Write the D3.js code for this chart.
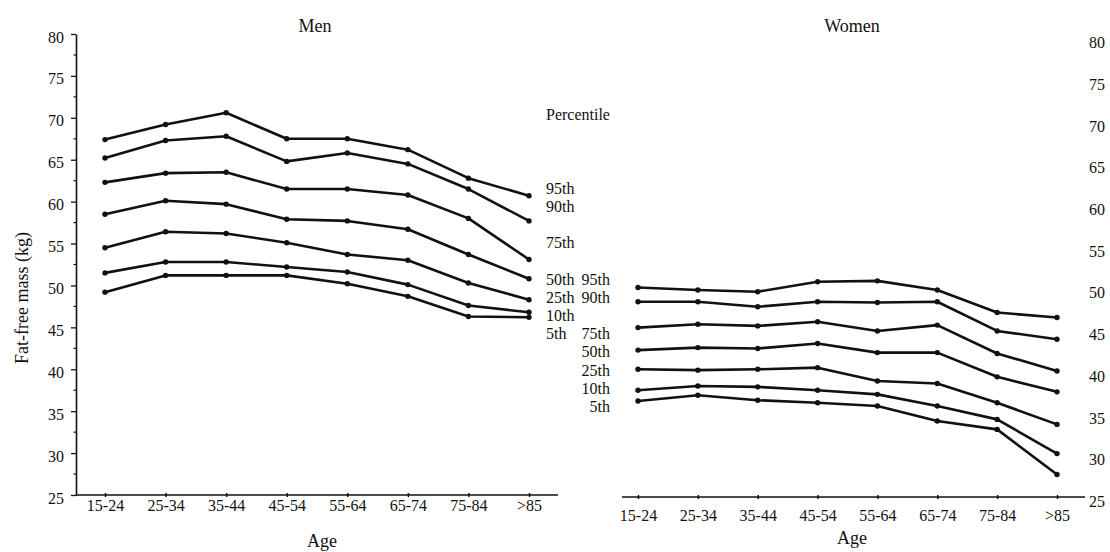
<!DOCTYPE html>
<html>
<head>
<meta charset="utf-8">
<script src="https://cdn.jsdelivr.net/npm/d3@7"></script>
<style>
  body { margin: 0; background: #fff; }
  svg { display: block; }
  svg text { font-family: "Liberation Serif", "Times New Roman", serif !important; fill: #111; }
</style>
</head>
<body>
<script>
// categories and labels
var ageGroups = ["15-24", "25-34", "35-44", "45-54", "55-64", "65-74", "75-84", ">85"];
var percentiles = ["95th", "90th", "75th", "50th", "25th", "10th", "5th"];
var yTicks = [25, 30, 35, 40, 45, 50, 55, 60, 65, 70, 75, 80];

// men, fat-free mass (kg) per age group
var men95 = [67.4, 69.2, 70.6, 67.5, 67.5, 66.2, 62.8, 60.7];
var men90 = [65.2, 67.3, 67.8, 64.8, 65.8, 64.5, 61.5, 57.7];
var men75 = [62.3, 63.4, 63.5, 61.5, 61.5, 60.8, 58.0, 53.1];
var men50 = [58.5, 60.1, 59.7, 57.9, 57.7, 56.7, 53.7, 50.8];
var men25 = [54.5, 56.4, 56.2, 55.1, 53.7, 53.0, 50.3, 48.3];
var men10 = [51.5, 52.8, 52.8, 52.2, 51.6, 50.1, 47.6, 46.8];
var men5  = [49.2, 51.2, 51.2, 51.2, 50.2, 48.7, 46.3, 46.2];

// women
var women95 = [50.1, 49.8, 49.6, 50.8, 50.9, 49.8, 47.1, 46.5];
var women90 = [48.4, 48.4, 47.8, 48.4, 48.3, 48.4, 44.9, 43.9];
var women75 = [45.3, 45.7, 45.5, 46.0, 44.9, 45.6, 42.2, 40.1];
var women50 = [42.6, 42.9, 42.8, 43.4, 42.3, 42.3, 39.4, 37.6];
var women25 = [40.3, 40.2, 40.3, 40.5, 38.9, 38.6, 36.3, 33.7];
var women10 = [37.8, 38.3, 38.2, 37.8, 37.3, 35.9, 34.3, 30.2];
var women5  = [36.5, 37.2, 36.6, 36.3, 35.9, 34.1, 33.1, 27.7];

var menSeries = [men95, men90, men75, men50, men25, men10, men5];
var womenSeries = [women95, women90, women75, women50, women25, women10, women5];

// label rows in the legend columns
var menRows = [0, 1, 3, 5, 6, 7, 8];
var womenRows = [5, 6, 8, 9, 10, 11, 12];

var ink = "#111";
var serif = '"Liberation Serif", "Times New Roman", serif';
var svg = d3.select("body").append("svg").attr("width", 1110).attr("height", 552)
  .attr("font-family", serif);

function drawLines(x, y, series) {
  var line = d3.line()
    .x(function(d, i) { return x(ageGroups[i]); })
    .y(function(d) { return y(d); });
  series.forEach(function(vals) {
    svg.append("path")
      .datum(vals)
      .attr("d", line)
      .attr("fill", "none")
      .attr("stroke", ink)
      .attr("stroke-width", 2.6)
      .attr("stroke-linejoin", "round");
    svg.selectAll(null)
      .data(vals)
      .enter().append("circle")
      .attr("cx", function(d, i) { return x(ageGroups[i]); })
      .attr("cy", function(d) { return y(d); })
      .attr("r", 2.7)
      .attr("fill", ink);
  });
}

function xAxis(x, yPos, x0, x1, pad) {
  svg.append("line")
    .attr("x1", x0).attr("x2", x1)
    .attr("y1", yPos).attr("y2", yPos)
    .attr("stroke", ink).attr("stroke-width", 1.6);
  var g = svg.append("g")
    .attr("transform", "translate(0," + yPos + ")")
    .call(d3.axisBottom(x).tickSize(2).tickPadding(pad))
    .attr("font-family", serif).attr("font-size", 16);
  g.select(".domain").remove();
  g.selectAll(".tick line").attr("y1", -2).attr("y2", 2).attr("stroke", ink).attr("stroke-width", 1.5);
  g.selectAll(".tick text").attr("fill", ink);
}

// ---------- Men ----------
var xm = d3.scalePoint().domain(ageGroups).range([105, 529]);
var ym = d3.scaleLinear().domain([25, 80]).range([495, 34]);

var gy = svg.append("g")
  .attr("transform", "translate(76,0)")
  .call(d3.axisLeft(ym).tickValues(yTicks).tickSize(5).tickSizeOuter(0).tickPadding(7))
  .attr("font-family", serif).attr("font-size", 16);
gy.select(".domain").attr("stroke", ink).attr("stroke-width", 1.6);
gy.selectAll(".tick line").attr("stroke", ink).attr("stroke-width", 1.3);
gy.selectAll(".tick text").attr("dy", "0.5em").attr("fill", ink);
svg.append("g")
  .attr("transform", "translate(76,0)")
  .selectAll("line")
  .data(d3.range(27.5, 80, 5))
  .enter().append("line")
  .attr("x1", -2.5).attr("x2", 0)
  .attr("y1", function(d) { return ym(d); })
  .attr("y2", function(d) { return ym(d); })
  .attr("stroke", ink).attr("stroke-width", 1.2);

xAxis(xm, 495, 76, 558, 2.6);
drawLines(xm, ym, menSeries);

svg.append("text").attr("x", 315).attr("y", 32).attr("text-anchor", "middle")
  .attr("font-size", 18).text("Men");
svg.append("text").attr("x", 322).attr("y", 547).attr("text-anchor", "middle")
  .attr("font-size", 18).text("Age");
svg.append("text")
  .attr("transform", "translate(22,298) rotate(-90)")
  .attr("text-anchor", "middle").attr("dy", "0.35em")
  .attr("font-size", 18).text("Fat-free mass (kg)");

// ---------- Women ----------
var xw = d3.scalePoint().domain(ageGroups).range([638, 1057]);
var yw = d3.scaleLinear().domain([25, 80]).range([497, 38]);

var gyw = svg.append("g")
  .attr("transform", "translate(1085,0)")
  .call(d3.axisRight(yw).tickValues(yTicks).tickSize(0).tickPadding(4))
  .attr("font-family", serif).attr("font-size", 16);
gyw.select(".domain").remove();
gyw.selectAll(".tick text").attr("dy", "0.6em").attr("fill", ink);

xAxis(xw, 497, 622, 1085, 10.6);
drawLines(xw, yw, womenSeries);

svg.append("text").attr("x", 852).attr("y", 32).attr("text-anchor", "middle")
  .attr("font-size", 18).text("Women");
svg.append("text").attr("x", 852).attr("y", 544).attr("text-anchor", "middle")
  .attr("font-size", 18).text("Age");

// ---------- Percentile labels ----------
function rowY(r) { return 188 + 18.2 * r; }
svg.append("text").attr("x", 546).attr("y", 120).attr("font-size", 16).text("Percentile");
svg.selectAll(null).data(percentiles).enter().append("text")
  .attr("x", 546)
  .attr("y", function(d, i) { return rowY(menRows[i]); })
  .attr("dy", "0.35em").attr("font-size", 16)
  .text(function(d) { return d; });
svg.selectAll(null).data(percentiles).enter().append("text")
  .attr("x", 610)
  .attr("y", function(d, i) { return rowY(womenRows[i]); })
  .attr("dy", "0.35em").attr("font-size", 16).attr("text-anchor", "end")
  .text(function(d) { return d; });
</script>
</body>
</html>
